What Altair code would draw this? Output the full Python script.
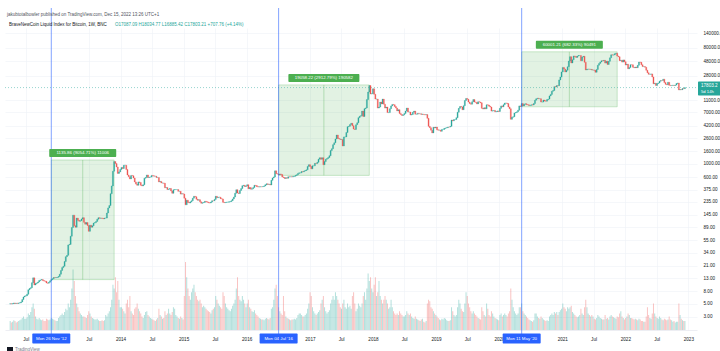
import altair as alt
import pandas as pd

# ---------------- data (weekly closes of the BNC Bitcoin index) -------------
first_open = 4.90
week_starts = ["2012-04-02", "2013-01-07", "2014-01-06", "2015-01-05", "2016-01-04", "2017-01-02",
               "2018-01-01", "2019-01-07", "2020-01-06", "2021-01-04", "2022-01-03"]

close_2012 = [4.95, 4.92, 4.97, 5.10, 5.00, 5.05, 5.02, 5.10, 5.13, 5.30, 5.80, 6.40, 6.65,
              6.70, 7.10, 8.40, 8.80, 9.10, 11.0, 13.2, 10.1, 10.7, 10.9, 11.3, 12.0, 12.2,
              12.4, 11.9, 11.7, 11.6, 10.9, 10.8, 11.2, 11.8, 12.4, 12.8, 13.4, 13.3, 13.4, 13.5]
close_2013 = [13.9, 15.2, 17.5, 19.5, 20.5, 24.5, 29.5, 31.0, 46, 46.9, 64, 89, 142, 95, 90, 127, 117,
              113, 115, 123, 129, 108, 101, 107, 96, 77, 97, 90, 95, 105, 107, 112, 122, 129,
              126, 127, 126, 124, 127, 127, 154, 187, 204, 320, 430, 750, 1080, 1000, 880, 690, 730, 800]
close_2014 = [860, 830, 940, 940, 800, 650, 610, 560, 640, 630, 580, 500, 460, 440, 500, 490, 440,
              430, 450, 575, 590, 650, 590, 600, 600, 640, 630, 620, 620, 590, 590, 500, 510, 480,
              480, 475, 400, 405, 375, 380, 390, 355, 325, 370, 375, 375, 375, 350, 350, 315, 320, 316]
close_2015 = [270, 210, 250, 230, 225, 235, 245, 270, 290, 285, 260, 250, 255, 235, 223, 227, 230,
              240, 236, 232, 227, 225, 233, 246, 245, 258, 290, 275, 280, 280, 265, 262, 231, 228, 230,
              232, 232, 236, 238, 246, 262, 282, 325, 372, 330, 322, 362, 388, 433, 440, 420, 430]
close_2016 = [450, 385, 405, 380, 385, 405, 440, 435, 418, 413, 415, 418, 416, 420, 430, 450, 465,
              455, 458, 445, 530, 580, 605, 760, 680, 675, 650, 675, 660, 605, 590, 570, 585, 575, 610,
              608, 610, 605, 616, 620, 640, 655, 690, 705, 705, 740, 735, 755, 770, 790, 900, 960]
close_2017 = [900, 820, 920, 920, 1010, 1000, 1050, 1180, 1250, 1180, 1250, 960, 1080, 1180, 1210, 1260, 1350,
              1640, 1760, 2050, 2200, 2540, 2950, 2600, 2550, 2500, 2500, 1950, 2750, 2750, 3250,
              4050, 4100, 4380, 4600, 4200, 3700, 3650, 4360, 4700, 5700, 6000, 6150, 7300,
              5950, 8000, 8250, 11300, 15000, 19200, 14000, 14100]
close_2018 = [17000, 13800, 11500, 11500, 8200, 8500, 10300, 9600, 11500, 9500, 8200, 8500, 6900,
              6900, 8000, 8900, 9400, 9300, 8700, 8200, 7350, 7700, 6700, 6400, 6200, 6350,
              6700, 7300, 8200, 7050, 7050, 6300, 6400, 7000, 7300, 6500, 6500, 6700, 6600,
              6600, 6450, 6500, 6400, 6350, 6400, 5550, 4100, 3900, 3550, 3200, 3950, 3850, 4000]
close_2019 = [3600, 3550, 3550, 3400, 3650, 3650, 3800, 3850, 3900, 4000, 3990, 4100,
              5200, 5050, 5300, 5300, 5700, 7000, 8100, 8700, 8550, 7700, 8950, 10900, 11800,
              11400, 10300, 9700, 9500, 10400, 11300, 10300, 10200, 9600, 10400, 10300, 10000, 8100, 7900,
              8300, 7950, 9250, 9200, 8800, 8500, 7300, 7400, 7500, 7100, 7200, 7350, 7200]
close_2020 = [8100, 8900, 8600, 9300, 9900, 9900, 9700, 8550, 8000, 5350, 5800, 5900, 6800,
              6900, 7100, 7550, 8900, 8700, 9700, 8900, 9450, 9650, 9350, 9300, 9000, 9100,
              9250, 9200, 9700, 11050, 11650, 11900, 11650, 11700, 10300, 10300, 11100, 10750, 10650,
              11300, 11500, 13000, 13750, 15500, 15950, 18400, 18200, 19200, 19150, 23800, 26500, 32200]
close_2021 = [38200, 36000, 32200, 34300, 39200, 48600, 57400, 45200, 51000, 59000, 57500, 55800, 58800,
              59800, 60000, 49000, 56500, 58200, 46400, 34700, 35600, 35800, 35500, 35500, 34600, 34700,
              34200, 31800, 35400, 41600, 44500, 47000, 49200, 48800, 49900, 45000, 48300, 42700, 48200,
              54900, 61500, 60900, 61300, 64400, 65500, 59000, 57200, 49400, 50100, 46700, 50800, 47300]
close_2022 = [41800, 43100, 36300, 38200, 42400, 42200, 38400, 37700, 38800, 37800, 41300, 46800, 46400,
              42200, 39400, 39500, 38500, 34300, 31300, 29400, 29400, 29900, 26600, 20550, 21000, 19300,
              20800, 21200, 22600, 23300, 23200, 24450, 21500, 20100, 19800, 21800, 19400, 19200, 19300,
              19450, 19250, 19550, 20800, 21150, 16300, 16500, 16450, 17150, 17100, 17803.21]

vol_2012 = [12, 10, 11, 13, 12, 10, 11, 12, 13, 14, 16, 18, 15, 15, 17, 22, 20, 24, 30, 35, 28, 18,
            15, 14, 16, 14, 13, 14, 12, 12, 15, 14, 13, 14, 16, 15, 14, 13, 12, 12]
vol_2013 = [16, 18, 20, 22, 20, 24, 28, 26, 35, 30, 40, 55, 80, 65, 45, 35, 30, 25, 22, 20, 18,
            18, 17, 16, 20, 25, 22, 18, 16, 15, 14, 14, 15, 13, 12, 12, 13, 12, 13, 20, 18, 22, 25,
            30, 40, 60, 55, 70, 50, 65, 40, 30]
vol_2014 = [30, 28, 25, 22, 35, 40, 30, 45, 25, 22, 20, 28, 30, 35, 28, 25, 22, 18, 16, 20, 24,
            25, 20, 18, 16, 15, 14, 13, 12, 14, 16, 28, 20, 18, 15, 16, 25, 20, 22, 28, 22, 20, 24,
            30, 28, 20, 18, 16, 15, 18, 16, 14]
vol_2015 = [45, 90, 70, 55, 45, 40, 50, 55, 60, 50, 45, 40, 38, 40, 35, 30, 32, 30, 28, 26, 25,
            24, 22, 26, 28, 30, 45, 40, 35, 32, 30, 28, 50, 45, 35, 30, 28, 26, 25, 28, 32, 35, 40,
            55, 70, 45, 40, 38, 45, 40, 35, 30]
vol_2016 = [35, 40, 30, 28, 25, 24, 26, 22, 20, 18, 16, 15, 14, 14, 13, 15, 16, 15, 14, 16, 28, 30,
            40, 55, 60, 45, 30, 25, 22, 20, 45, 25, 18, 16, 15, 14, 13, 14, 14, 15, 14, 16, 20, 22,
            22, 20, 18, 18, 20, 22, 28, 35]
vol_2017 = [50, 45, 30, 25, 22, 20, 22, 24, 26, 35, 40, 45, 30, 25, 22, 24, 26, 35, 40, 45, 40, 50,
            45, 40, 35, 30, 28, 35, 40, 30, 28, 35, 30, 32, 28, 45, 50, 35, 25, 28, 35, 32, 30, 35,
            45, 50, 40, 55, 75, 65, 70, 55]
vol_2018 = [50, 60, 70, 45, 50, 65, 45, 40, 35, 40, 45, 40, 35, 28, 30, 40, 30, 25, 22, 20, 22, 20,
            25, 22, 20, 18, 18, 20, 25, 22, 20, 22, 18, 16, 15, 18, 15, 14, 13, 12, 14, 15, 11, 10,
            12, 35, 40, 38, 30, 28, 25, 22, 20]
vol_2019 = [18, 16, 14, 13, 15, 14, 16, 15, 13, 12, 12, 13, 30, 25, 20, 18, 20, 30, 40, 35, 28,
            25, 24, 35, 50, 45, 35, 30, 25, 22, 25, 22, 20, 18, 16, 15, 14, 30, 25, 20, 18, 35, 28,
            20, 18, 25, 22, 18, 16, 15, 14, 13]
vol_2020 = [20, 22, 18, 20, 22, 20, 18, 22, 25, 55, 40, 30, 25, 22, 20, 22, 30, 30, 35, 25, 22,
            20, 18, 16, 14, 13, 12, 11, 13, 22, 22, 18, 16, 15, 18, 16, 14, 13, 12, 13, 12, 18, 20,
            22, 20, 24, 22, 24, 20, 24, 26, 28]
vol_2021 = [35, 30, 28, 25, 30, 28, 30, 32, 24, 22, 20, 18, 17, 18, 20, 28, 22, 20, 30, 40, 30, 22,
            20, 18, 20, 18, 15, 14, 16, 20, 18, 16, 15, 14, 14, 20, 15, 16, 14, 18, 20, 18, 17,
            16, 15, 18, 17, 22, 25, 18, 16, 14]
vol_2022 = [16, 18, 22, 20, 16, 16, 15, 14, 15, 14, 13, 15, 14, 12, 12, 11, 11, 18, 30, 20, 16, 15,
            22, 35, 22, 18, 16, 15, 18, 16, 14, 13, 15, 14, 13, 14, 18, 14, 13, 11, 12, 10, 11, 11,
            35, 20, 15, 13, 12, 12]

closes_by_year = [close_2012, close_2013, close_2014, close_2015, close_2016, close_2017,
                  close_2018, close_2019, close_2020, close_2021, close_2022]
vols_by_year = [vol_2012, vol_2013, vol_2014, vol_2015, vol_2016, vol_2017,
                vol_2018, vol_2019, vol_2020, vol_2021, vol_2022]

halving_dates = ["2012-11-26", "2016-07-04", "2020-05-11"]
halving_labels = ["Mon 26 Nov '12", "Mon 04 Jul '16", "Mon 11 May '20"]

range_start = ["2012-11-26", "2016-07-04", "2020-05-11"]
range_end = ["2013-11-25", "2017-12-11", "2021-11-15"]
range_low = [12.35, 640, 8600]
range_high = [1147, 19700, 69000]
range_labels = ["1135.86 (9054.71%) 11006", "19058.22 (2912.79%) 190582", "60001.21 (682.33%) 90491"]

price_ticks = [3, 5, 8, 13, 21, 34, 55, 89, 145, 235, 375, 600, 1000, 1600, 2600, 4200, 7000,
               11000, 28000, 48000, 80000, 140000]
time_ticks = [(2012, 7), (2013, 7), (2014, 1), (2014, 7), (2015, 1), (2015, 7), (2016, 1),
              (2017, 1), (2017, 7), (2018, 1), (2018, 7), (2019, 1), (2019, 7), (2020, 1),
              (2021, 1), (2021, 7), (2022, 1), (2022, 7), (2023, 1)]

header_1 = "jakubtotalbowler published on TradingView.com, Dec 15, 2022 13:26 UTC+1"
header_2a = "BraveNewCoin Liquid Index for Bitcoin, 1W, BNC"
header_2b = "O17087.09 H18034.77 L16885.42 C17803.21 +707.76 (+4.14%)"
last_price_label = "17803.2"
countdown_label = "5d 14h"

# ---------------- build table ----------------
rows = []
prev = first_open
for start, closes, vols in zip(week_starts, closes_by_year, vols_by_year):
    dates = pd.date_range(start, periods=len(closes), freq="7D")
    for d, c, v in zip(dates, closes, vols):
        rows.append({"date": d.strftime("%Y-%m-%d"), "open": prev, "close": c, "vol": v,
                     "dir": "up" if c >= prev else "down"})
        prev = c
df = pd.DataFrame(rows)

rng = pd.DataFrame({"start": range_start, "end": range_end, "low": range_low,
                    "high": range_high, "label": range_labels})
rng["mid"] = [(pd.Timestamp(a) + (pd.Timestamp(b) - pd.Timestamp(a)) / 2).strftime("%Y-%m-%d")
              for a, b in zip(range_start, range_end)]
halv = pd.DataFrame({"date": halving_dates, "label": halving_labels})

# ---------------- styles ----------------
UP, DOWN = "#26a69a", "#ef5350"
GREEN = "#4caf50"
BLUE = "#2962ff"
FONT = "Liberation Sans"
W, H = 692, 302

xscale = alt.Scale(domain=[alt.DateTime(year=2012, month=4, date=1),
                           alt.DateTime(year=2023, month=1, date=22)])
yscale = alt.Scale(type="log", domain=[1.833, 170000], nice=False, zero=False)
col = alt.Color("dir:N", scale=alt.Scale(domain=["up", "down"], range=[UP, DOWN]), legend=None)

xaxis = alt.Axis(values=[alt.DateTime(year=y, month=m, date=1) for y, m in time_ticks],
                 labelExpr="month(datum.value) == 0 ? timeFormat(datum.value, '%Y') : 'Jul'",
                 grid=True, gridColor="#eef1f6", gridWidth=0.6, ticks=False, domain=True,
                 domainColor="#e0e3eb", domainWidth=0.6, labelFontSize=4.6, labelColor="#131722",
                 labelPadding=6, labelOverlap=False, title=None, labelFont=FONT)
yaxis = alt.Axis(orient="right", values=price_ticks,
                 labelExpr="datum.value >= 100000 ? format(datum.value, '.1f') : format(datum.value, '.2f')",
                 grid=True, gridColor="#eef1f6", gridWidth=0.6, ticks=False, domain=False,
                 labelFontSize=4.6, labelColor="#131722", labelPadding=6, labelOverlap=False,
                 title=None, labelFont=FONT)


def X(field):
    return alt.X(field, scale=xscale, axis=xaxis)


base = alt.Chart(df)

volume = base.mark_bar(width=1.0, opacity=0.35).encode(
    x=X("date:T"),
    y=alt.Y("vol:Q", scale=alt.Scale(domain=[0, 400], nice=False, zero=True), axis=None),
    color=col,
)

rects = alt.Chart(rng).mark_rect(fill=GREEN, fillOpacity=0.16, stroke=GREEN,
                                 strokeOpacity=0.45, strokeWidth=0.6).encode(
    x=X("start:T"), x2="end:T",
    y=alt.Y("low:Q", scale=yscale, axis=None), y2="high:Q")

mids = alt.Chart(rng).mark_rule(color=GREEN, strokeWidth=0.6, opacity=0.55).encode(
    x=X("mid:T"),
    y=alt.Y("low:Q", scale=yscale, axis=None), y2="high:Q")

candles = base.mark_bar(width=1.0, strokeWidth=0.35).encode(
    x=X("date:T"),
    y=alt.Y("open:Q", scale=yscale, axis=yaxis), y2="close:Q",
    color=col,
    stroke=alt.Stroke("dir:N", scale=alt.Scale(domain=["up", "down"], range=[UP, DOWN]), legend=None),
)

last_df = pd.DataFrame({"p": [df["close"].iloc[-1]], "t1": [last_price_label], "t2": [countdown_label]})
last_line = alt.Chart(last_df).mark_rule(color=UP, strokeWidth=0.6, strokeDash=[1, 2], opacity=0.8).encode(
    y=alt.Y("p:Q", scale=yscale, axis=None), x=alt.value(0), x2=alt.value(W))

halv_rules = alt.Chart(halv).mark_rule(color=BLUE, strokeWidth=0.9, opacity=0.65).encode(
    x=X("date:T"), y=alt.value(-20), y2=alt.value(H + 4))
halv_box = alt.Chart(halv).mark_rect(width=38, height=10, fill=BLUE, cornerRadius=1).encode(
    x=X("date:T"), y=alt.value(H + 8.5))
halv_txt = alt.Chart(halv).mark_text(color="white", fontSize=4.4, font=FONT, baseline="middle").encode(
    x=X("date:T"), y=alt.value(H + 8.5), text="label:N")

label_widths = [67, 71, 67]
label_layers = []
for i, wdt in enumerate(label_widths):
    one = alt.Chart(rng.iloc[[i]])
    label_layers.append(one.mark_rect(width=wdt, height=8, fill=GREEN, cornerRadius=1, yOffset=-7).encode(
        x=X("mid:T"), y=alt.Y("high:Q", scale=yscale, axis=None)))
    label_layers.append(one.mark_text(color="white", fontSize=4.4, font=FONT, dy=-7, baseline="middle").encode(
        x=X("mid:T"), y=alt.Y("high:Q", scale=yscale, axis=None),
        text="label:N"))

price_box = alt.Chart(last_df).mark_rect(height=14, fill=UP, cornerRadius=1, yOffset=1).encode(
    y=alt.Y("p:Q", scale=yscale, axis=None), x=alt.value(W + 1), x2=alt.value(W + 30))
price_txt1 = alt.Chart(last_df).mark_text(color="white", fontSize=4.6, font=FONT, align="left", dy=-2,
                                          baseline="middle").encode(
    y=alt.Y("p:Q", scale=yscale, axis=None), x=alt.value(W + 4), text="t1:N")
price_txt2 = alt.Chart(last_df).mark_text(color="white", fontSize=4.2, font=FONT, align="left", dy=4,
                                          baseline="middle").encode(
    y=alt.Y("p:Q", scale=yscale, axis=None), x=alt.value(W + 4), text="t2:N")

hdr = pd.DataFrame({"a": [header_1], "b": [header_2a], "c": [header_2b], "d": ["TradingView"]})
h1 = alt.Chart(hdr).mark_text(fontSize=4.5, font=FONT, color="#50535e", align="left", baseline="middle").encode(
    x=alt.value(2), y=alt.value(-13), text="a:N")
h2 = alt.Chart(hdr).mark_text(fontSize=4.5, font=FONT, color="#131722", align="left", baseline="middle").encode(
    x=alt.value(4), y=alt.value(-3), text="b:N")
h3 = alt.Chart(hdr).mark_text(fontSize=4.5, font=FONT, color=UP, align="left", baseline="middle").encode(
    x=alt.value(110), y=alt.value(-3), text="c:N")
logo = alt.Chart(hdr).mark_rect(fill="#131722").encode(
    x=alt.value(2), x2=alt.value(8), y=alt.value(H + 17), y2=alt.value(H + 21))
logo_t = alt.Chart(hdr).mark_text(fontSize=4.5, font=FONT, color="#787b86", align="left", baseline="top").encode(
    x=alt.value(10), y=alt.value(H + 17), text="d:N")

chart = alt.layer(
    volume, rects, mids, candles, last_line, halv_rules, halv_box, halv_txt,
    *label_layers, price_box, price_txt1, price_txt2, h1, h2, h3, logo, logo_t,
).resolve_scale(y="independent").properties(
    width=W, height=H,
    padding={"left": 5, "top": 28, "right": 23, "bottom": 21},
    autosize=alt.AutoSizeParams(type="none"),
    background="white",
).configure_view(stroke=None)

chart.save("out.html", embed_options={"renderer": "svg", "actions": False})
